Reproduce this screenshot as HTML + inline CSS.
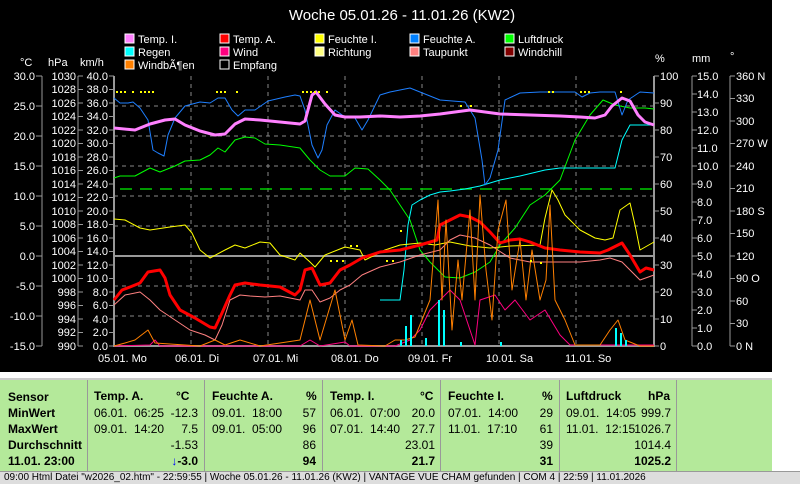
<!DOCTYPE html><html><head><meta charset="utf-8"><style>
body{margin:0;width:800px;height:483px;overflow:hidden;background:#fff;font-family:"Liberation Sans",sans-serif}
#c{position:absolute;left:0;top:0;width:772px;height:372px;background:#000}
#tb{position:absolute;left:0;top:378px;width:772px;height:92px;background:#b4e99a;border-top:2px solid #ccc}
.t{position:absolute;font-size:12px;color:#000;white-space:nowrap}
.b{font-weight:bold}
#sb{position:absolute;left:0;top:471px;width:800px;height:12px;background:#ddd;border-top:1px solid #999}
</style></head><body>
<div id="c"><svg width="772" height="372" font-family="Liberation Sans, sans-serif" font-size="12" fill="#fff">
<text x="402" y="20" font-size="15" text-anchor="middle">Woche 05.01.26 - 11.01.26 (KW2)</text>
<g font-size="11">
<rect x="125" y="34" width="9" height="9" fill="#ff80ff" stroke="#fff"/><text x="138" y="43">Temp. I.</text>
<rect x="125" y="47" width="9" height="9" fill="#0ff" stroke="#fff"/><text x="138" y="56">Regen</text>
<rect x="125" y="60" width="9" height="9" fill="#ff8000" stroke="#fff"/><text x="138" y="69">WindbÃ¶en</text>
<rect x="220" y="34" width="9" height="9" fill="#f00" stroke="#fff"/><text x="233" y="43">Temp. A.</text>
<rect x="220" y="47" width="9" height="9" fill="#ff0080" stroke="#fff"/><text x="233" y="56">Wind</text>
<rect x="220" y="60" width="9" height="9" fill="#000" stroke="#fff"/><text x="233" y="69">Empfang</text>
<rect x="315" y="34" width="9" height="9" fill="#ff0" stroke="#fff"/><text x="328" y="43">Feuchte I.</text>
<rect x="315" y="47" width="9" height="9" fill="#ffff80" stroke="#fff"/><text x="328" y="56">Richtung</text>
<rect x="410" y="34" width="9" height="9" fill="#0080ff" stroke="#fff"/><text x="423" y="43">Feuchte A.</text>
<rect x="410" y="47" width="9" height="9" fill="#ff8080" stroke="#fff"/><text x="423" y="56">Taupunkt</text>
<rect x="505" y="34" width="9" height="9" fill="#0f0" stroke="#fff"/><text x="518" y="43">Luftdruck</text>
<rect x="505" y="47" width="9" height="9" fill="#800000" stroke="#fff"/><text x="518" y="56">Windchill</text>
<text x="20" y="66">°C</text><text x="48" y="66">hPa</text><text x="80" y="66">km/h</text>
<text x="655" y="62">%</text><text x="692" y="62">mm</text><text x="730" y="60">°</text>
</g>
<g stroke="#888" stroke-dasharray="4,4"><path d="M191 76V346M268 76V346M345 76V346M422 76V346M499 76V346M576 76V346M114 106H654M114 136H654M114 166H654M114 196H654M114 226H654M114 286H654M114 316H654"/></g>
<path d="M114 256H654" stroke="#999" stroke-width="2"/>
<path d="M114 76V346H654V76" stroke="#999" stroke-width="2" fill="none"/>
<path d="M120 189H654" stroke="#0c0" stroke-width="1.5" stroke-dasharray="12,8"/>
<g stroke="#999" fill="none"><path d="M42 76V346M78 76V346M692 76V346M730 76V346"/>
<path d="M36 76h6M36 106h6M36 136h6M36 166h6M36 196h6M36 226h6M36 256h6M36 286h6M36 316h6M36 346h6"/>
<path d="M78 76h5M78 89.5h5M78 103h5M78 116.5h5M78 130h5M78 143.5h5M78 157h5M78 170.5h5M78 184h5M78 197.5h5M78 211h5M78 224.5h5M78 238h5M78 251.5h5M78 265h5M78 278.5h5M78 292h5M78 305.5h5M78 319h5M78 332.5h5M78 346h5"/>
<path d="M109 76h5M109 89.5h5M109 103h5M109 116.5h5M109 130h5M109 143.5h5M109 157h5M109 170.5h5M109 184h5M109 197.5h5M109 211h5M109 224.5h5M109 238h5M109 251.5h5M109 265h5M109 278.5h5M109 292h5M109 305.5h5M109 319h5M109 332.5h5M109 346h5"/>
<path d="M654 76h5M654 103h5M654 130h5M654 157h5M654 184h5M654 211h5M654 238h5M654 265h5M654 292h5M654 319h5M654 346h5"/>
<path d="M692 76h5M692 94h5M692 112h5M692 130h5M692 148h5M692 166h5M692 184h5M692 202h5M692 220h5M692 238h5M692 256h5M692 274h5M692 292h5M692 310h5M692 328h5M692 346h5"/>
<path d="M730 76h5M730 98.5h5M730 121h5M730 143.5h5M730 166h5M730 188.5h5M730 211h5M730 233.5h5M730 256h5M730 278.5h5M730 301h5M730 323.5h5M730 346h5"/></g>
<g text-anchor="end" font-size="11">
<text x="35" y="80">30.0</text><text x="35" y="110">25.0</text><text x="35" y="140">20.0</text><text x="35" y="170">15.0</text><text x="35" y="200">10.0</text><text x="35" y="230">5.0</text><text x="35" y="260">0.0</text><text x="35" y="290">-5.0</text><text x="35" y="320">-10.0</text><text x="35" y="350">-15.0</text>
<text x="76" y="80">1030</text><text x="76" y="93">1028</text><text x="76" y="107">1026</text><text x="76" y="120">1024</text><text x="76" y="134">1022</text><text x="76" y="147">1020</text><text x="76" y="161">1018</text><text x="76" y="174">1016</text><text x="76" y="188">1014</text><text x="76" y="201">1012</text><text x="76" y="215">1010</text><text x="76" y="228">1008</text><text x="76" y="242">1006</text><text x="76" y="255">1004</text><text x="76" y="269">1002</text><text x="76" y="282">1000</text><text x="76" y="296">998</text><text x="76" y="309">996</text><text x="76" y="323">994</text><text x="76" y="336">992</text><text x="76" y="350">990</text>
<text x="108" y="80">40.0</text><text x="108" y="93">38.0</text><text x="108" y="107">36.0</text><text x="108" y="120">34.0</text><text x="108" y="134">32.0</text><text x="108" y="147">30.0</text><text x="108" y="161">28.0</text><text x="108" y="174">26.0</text><text x="108" y="188">24.0</text><text x="108" y="201">22.0</text><text x="108" y="215">20.0</text><text x="108" y="228">18.0</text><text x="108" y="242">16.0</text><text x="108" y="255">14.0</text><text x="108" y="269">12.0</text><text x="108" y="282">10.0</text><text x="108" y="296">8.0</text><text x="108" y="309">6.0</text><text x="108" y="323">4.0</text><text x="108" y="336">2.0</text><text x="108" y="350">0.0</text></g>
<g font-size="11">
<text x="660" y="80">100</text><text x="660" y="107">90</text><text x="660" y="134">80</text><text x="660" y="161">70</text><text x="660" y="188">60</text><text x="660" y="215">50</text><text x="660" y="242">40</text><text x="660" y="269">30</text><text x="660" y="296">20</text><text x="660" y="323">10</text><text x="660" y="350">0</text>
<text x="697" y="80">15.0</text><text x="697" y="98">14.0</text><text x="697" y="116">13.0</text><text x="697" y="134">12.0</text><text x="697" y="152">11.0</text><text x="697" y="170">10.0</text><text x="697" y="188">9.0</text><text x="697" y="206">8.0</text><text x="697" y="224">7.0</text><text x="697" y="242">6.0</text><text x="697" y="260">5.0</text><text x="697" y="278">4.0</text><text x="697" y="296">3.0</text><text x="697" y="314">2.0</text><text x="697" y="332">1.0</text><text x="697" y="350">0.0</text>
<text x="736" y="80">360 N</text><text x="736" y="102">330</text><text x="736" y="125">300</text><text x="736" y="147">270 W</text><text x="736" y="170">240</text><text x="736" y="192">210</text><text x="736" y="215">180 S</text><text x="736" y="237">150</text><text x="736" y="260">120</text><text x="736" y="282">90  O</text><text x="736" y="305">60</text><text x="736" y="327">30</text><text x="736" y="350">0    N</text>
<text x="98" y="362">05.01. Mo</text><text x="175" y="362">06.01. Di</text><text x="253" y="362">07.01. Mi</text><text x="331" y="362">08.01. Do</text><text x="408" y="362">09.01. Fr</text><text x="486" y="362">10.01. Sa</text><text x="565" y="362">11.01. So</text></g>
<g fill="none" stroke-linejoin="round">
<polyline stroke="#0f0" points="114,178 120,176 135,176 150,168 160,172 175,166 185,161 200,160 210,155 218,148 225,152 235,140 245,137 255,138 265,144 280,145 300,148 310,160 320,170 330,176 345,176 355,168 368,169 380,180 390,190 400,205 410,220 420,250 430,262 445,277 460,278 475,272 490,262 500,245 515,228 530,205 545,195 560,180 575,140 590,115 603,100 615,105 630,108 645,108 654,109"/>
<polyline stroke="#0af" points="380,300 400,300 404,270 408,225 412,205 420,200 430,195 440,192 450,191 465,189 480,186 490,183 500,180 520,176 545,170 560,168 615,168 622,140 630,125 654,125" style="stroke:#0ff"/>
<polyline stroke="#1e7fff" points="114,98 120,103 128,103 133,102 140,108 148,120 153,150 158,153 164,156 168,135 175,118 185,106 200,102 210,103 218,98 225,98 232,110 238,116 245,110 255,110 268,101 285,97 295,95 300,96 305,110 312,145 318,158 322,150 327,125 335,110 345,117 355,118 362,130 368,120 380,95 390,92 400,90 410,88 420,92 440,100 465,102 475,118 482,160 485,185 490,178 498,150 505,100 520,93 540,92 565,92 575,92 582,97 590,93 600,92 615,92 622,115 628,100 640,92 654,93"/>
<polyline stroke="#ff80ff" stroke-width="3" points="114,128 135,130 150,124 165,120 175,119 185,125 200,131 215,135 225,134 235,124 245,119 260,120 280,122 300,124 305,121 312,95 316,92 325,104 335,115 345,117 360,117 380,116 400,117 420,116 440,114 470,110 500,114 530,115 560,116 580,117 595,118 605,115 612,106 622,98 630,101 638,115 645,122 654,125"/>
<polyline stroke="#ff0" points="114,219 125,220 140,228 150,230 170,227 185,225 192,233 200,250 210,258 225,250 235,245 245,248 260,242 270,243 280,255 295,260 300,253 310,262 315,267 325,255 345,247 360,250 365,260 385,250 400,245 420,243 435,245 450,242 470,246 490,248 510,246 540,245 545,218 552,190 558,200 565,215 580,230 595,238 605,240 613,238 620,210 630,203 635,225 640,250 654,242"/>
<polyline stroke="#ff8080" points="114,305 125,295 140,292 150,300 160,310 175,320 190,330 205,335 215,340 222,325 230,300 240,295 250,296 265,297 280,296 290,298 300,300 305,290 312,290 320,302 330,298 340,290 350,285 362,275 380,267 400,262 420,255 440,250 450,240 460,235 475,238 490,245 510,258 530,262 560,262 580,262 600,260 610,258 622,262 630,270 640,280 654,275"/>
<polyline stroke="#f00" stroke-width="3" points="114,300 122,290 130,287 140,283 148,272 160,270 165,278 170,295 180,310 195,318 210,327 215,328 222,313 230,295 235,285 245,283 260,285 280,287 295,295 300,290 305,270 312,268 320,285 330,283 340,270 350,265 362,258 380,252 400,250 420,245 437,240 440,225 450,220 460,215 470,217 480,222 490,232 500,243 510,240 520,239 530,242 545,248 560,250 580,252 600,253 608,250 622,243 630,255 640,272 646,268 654,270"/>
<polyline stroke="#ff0080" points="114,346 150,345 155,340 160,346 300,346 310,340 320,346 345,342 350,346 395,346 410,340 420,330 430,310 440,300 450,290 460,300 470,330 475,345 480,300 495,295 505,310 515,300 530,320 545,310 560,335 570,345 654,345"/>
<polyline stroke="#ff8000" points="114,346 125,343 135,340 148,330 155,343 200,346 215,340 225,345 240,340 260,346 300,340 310,300 315,320 320,340 335,290 340,315 345,340 352,320 358,345 385,346 395,340 405,340 415,337 430,300 438,200 442,300 446,220 452,330 458,260 462,300 470,210 475,300 480,195 486,270 492,320 498,230 506,200 512,290 520,240 526,300 532,250 540,300 546,280 550,205 555,300 565,320 575,345 600,345 610,330 618,320 625,340 640,346 654,346"/>
</g>
<g fill="#0ff"><rect x="405" y="326" width="2" height="20"/><rect x="410" y="315" width="2" height="31"/><rect x="438" y="300" width="2" height="46"/><rect x="443" y="310" width="2" height="36"/><rect x="425" y="338" width="2" height="8"/><rect x="615" y="328" width="2" height="18"/><rect x="620" y="333" width="2" height="13"/><rect x="625" y="340" width="2" height="6"/><rect x="400" y="340" width="2" height="6"/><rect x="460" y="342" width="2" height="4"/><rect x="500" y="342" width="2" height="4"/></g>
<g fill="#ff0"><rect x="116" y="91" width="2" height="2"/><rect x="120" y="91" width="2" height="2"/><rect x="124" y="91" width="2" height="2"/><rect x="132" y="91" width="2" height="2"/><rect x="140" y="91" width="2" height="2"/><rect x="144" y="91" width="2" height="2"/><rect x="148" y="91" width="2" height="2"/><rect x="152" y="91" width="2" height="2"/><rect x="216" y="91" width="2" height="2"/><rect x="220" y="91" width="2" height="2"/><rect x="224" y="91" width="2" height="2"/><rect x="236" y="91" width="2" height="2"/><rect x="302" y="91" width="2" height="2"/><rect x="306" y="91" width="2" height="2"/><rect x="310" y="91" width="2" height="2"/><rect x="314" y="91" width="2" height="2"/><rect x="318" y="91" width="2" height="2"/><rect x="326" y="91" width="2" height="2"/><rect x="330" y="260" width="2" height="2"/><rect x="336" y="260" width="2" height="2"/><rect x="342" y="260" width="2" height="2"/><rect x="350" y="245" width="2" height="2"/><rect x="356" y="245" width="2" height="2"/><rect x="386" y="260" width="2" height="2"/><rect x="392" y="260" width="2" height="2"/><rect x="400" y="230" width="2" height="2"/><rect x="530" y="260" width="2" height="2"/><rect x="540" y="262" width="2" height="2"/><rect x="548" y="91" width="2" height="2"/><rect x="552" y="91" width="2" height="2"/><rect x="580" y="91" width="2" height="2"/><rect x="584" y="91" width="2" height="2"/><rect x="588" y="91" width="2" height="2"/><rect x="620" y="91" width="2" height="2"/><rect x="460" y="105" width="2" height="2"/><rect x="470" y="105" width="2" height="2"/></g>
</svg></div>
<div id="tb">
<div style="position:absolute;left:87px;top:0;width:1px;height:92px;background:#999"></div>
<div style="position:absolute;left:204px;top:0;width:1px;height:92px;background:#999"></div>
<div style="position:absolute;left:322px;top:0;width:1px;height:92px;background:#999"></div>
<div style="position:absolute;left:440px;top:0;width:1px;height:92px;background:#999"></div>
<div style="position:absolute;left:559px;top:0;width:1px;height:92px;background:#999"></div>
<div style="position:absolute;left:676px;top:0;width:1px;height:92px;background:#999"></div>
</div>
<div class="t b" style="left:8px;top:389px;line-height:16px">Sensor<br>MinWert<br>MaxWert<br>Durchschnitt<br>11.01. 23:00</div>
<div class="t b" style="left:94px;top:389px">Temp. A.</div><div class="t b" style="left:176px;top:389px">°C</div>
<div class="t" style="left:94px;top:405px;line-height:16px">06.01.&nbsp; 06:25<br>09.01.&nbsp; 14:20</div>
<div class="t" style="left:160px;top:405px;width:38px;text-align:right;line-height:16px">-12.3<br>7.5<br>-1.53<br><b><span style="color:#00f">↓</span>-3.0</b></div>
<div class="t b" style="left:212px;top:389px">Feuchte A.</div><div class="t b" style="left:306px;top:389px">%</div>
<div class="t" style="left:212px;top:405px;line-height:16px">09.01.&nbsp; 18:00<br>09.01.&nbsp; 05:00</div>
<div class="t" style="left:280px;top:405px;width:36px;text-align:right;line-height:16px">57<br>96<br>86<br><b>94</b></div>
<div class="t b" style="left:330px;top:389px">Temp. I.</div><div class="t b" style="left:420px;top:389px">°C</div>
<div class="t" style="left:330px;top:405px;line-height:16px">06.01.&nbsp; 07:00<br>07.01.&nbsp; 14:40</div>
<div class="t" style="left:395px;top:405px;width:40px;text-align:right;line-height:16px">20.0<br>27.7<br>23.01<br><b>21.7</b></div>
<div class="t b" style="left:448px;top:389px">Feuchte I.</div><div class="t b" style="left:542px;top:389px">%</div>
<div class="t" style="left:448px;top:405px;line-height:16px">07.01.&nbsp; 14:00<br>11.01.&nbsp; 17:10</div>
<div class="t" style="left:515px;top:405px;width:38px;text-align:right;line-height:16px">29<br>61<br>39<br><b>31</b></div>
<div class="t b" style="left:566px;top:389px">Luftdruck</div><div class="t b" style="left:648px;top:389px">hPa</div>
<div class="t" style="left:566px;top:405px;line-height:16px">09.01.&nbsp; 14:05<br>11.01.&nbsp; 12:15</div>
<div class="t" style="left:625px;top:405px;width:46px;text-align:right;line-height:16px">999.7<br>1026.7<br>1014.4<br><b>1025.2</b></div>
<div id="sb"><div class="t" style="left:4px;top:0;font-size:10px">09:00 Html Datei "w2026_02.htm" - 22:59:55 | Woche 05.01.26 - 11.01.26 (KW2) | VANTAGE VUE CHAM gefunden | COM 4 | 22:59 | 11.01.2026</div></div>
</body></html>
